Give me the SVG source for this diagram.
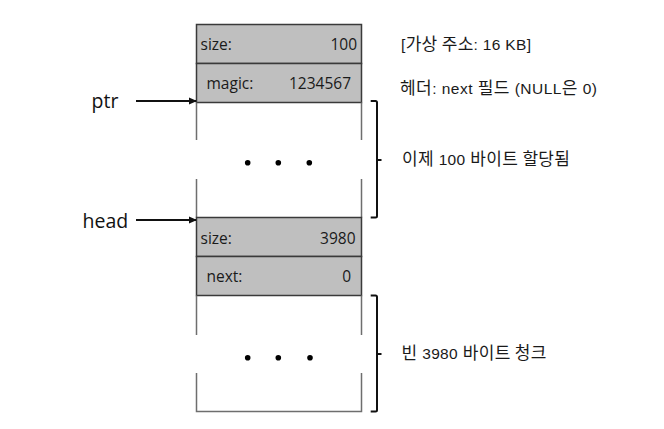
<svg xmlns="http://www.w3.org/2000/svg" width="664" height="429" viewBox="0 0 664 429">
<style>
.cell{fill:#bfbfbf;stroke:#3a3a3a;stroke-width:1.5}
.side{stroke:#6e6e6e;stroke-width:1.5;fill:none}
.bt{font-family:"Open Sans","DejaVu Sans",sans-serif;font-size:15.5px;fill:#1a1a1a}
.lbl{font-family:"Liberation Sans","Noto Sans CJK KR",sans-serif;font-size:15.5px;fill:#1a1a1a}
.k{font-family:"Noto Sans CJK KR","Liberation Sans",sans-serif;font-size:17px}
.ptr{font-family:"Open Sans","DejaVu Sans",sans-serif;font-size:19.5px;fill:#111}
.brace{stroke:#111;stroke-width:2;fill:none}
.arrow{stroke:#111;stroke-width:2.2;fill:none}
.dot{fill:#000}
</style>
<defs>
<marker id="ah" markerWidth="8" markerHeight="8" refX="7" refY="4" orient="auto" markerUnits="userSpaceOnUse">
<path d="M0,0.5 L8,4 L0,7.5 Z" fill="#111"/>
</marker>
</defs>
<rect width="664" height="429" fill="#fff"/>
<g id="size100">
<rect class="cell" x="196.5" y="24.5" width="165" height="39"/>
<text class="bt" x="200.5" y="50">size:</text>
<text class="bt" x="357" y="50" text-anchor="end">100</text>
</g>
<g id="magic">
<rect class="cell" x="196.5" y="63.5" width="165" height="39"/>
<text class="bt" x="206.5" y="89">magic:</text>
<text class="bt" x="351" y="89" text-anchor="end">1234567</text>
</g>
<g id="alloc">
<path class="side" d="M196.5,102.5 V140 M196.5,179 V217.5 M361.5,102.5 V140 M361.5,179 V217.5"/>
<circle class="dot" cx="247.7" cy="162.7" r="2.8"/>
<circle class="dot" cx="278.3" cy="162.7" r="2.8"/>
<circle class="dot" cx="309.3" cy="162.7" r="2.8"/>
</g>
<g id="size3980">
<rect class="cell" x="196.5" y="217.5" width="165" height="39"/>
<text class="bt" x="200.5" y="243.5">size:</text>
<text class="bt" x="355.5" y="243.5" text-anchor="end">3980</text>
</g>
<g id="next">
<rect class="cell" x="196.5" y="256.5" width="165" height="39"/>
<text class="bt" x="206.5" y="281.5">next:</text>
<text class="bt" x="351" y="281.5" text-anchor="end">0</text>
</g>
<g id="free">
<path class="side" d="M196.5,295.5 V335 M196.5,373 V411.5 H361.5 V373 M361.5,295.5 V335"/>
<circle class="dot" cx="247.7" cy="357.7" r="2.8"/>
<circle class="dot" cx="278.3" cy="357.7" r="2.8"/>
<circle class="dot" cx="310" cy="357.7" r="2.8"/>
</g>
<g id="ptr">
<text class="ptr" x="91.5" y="108">ptr</text>
</g>
<g id="head">
<text class="ptr" x="82.5" y="227.5">head</text>
</g>
<g id="labels">
<text class="lbl" x="401" y="49.5" textLength="130">[<tspan class="k">가상 주소</tspan>: 16 KB]</text>
<text class="lbl" x="400" y="94" textLength="197"><tspan class="k">헤더</tspan>: next <tspan class="k">필드</tspan> (NULL<tspan class="k">은</tspan> 0)</text>
<text class="lbl" x="402" y="164.5" textLength="168"><tspan class="k">이제</tspan> 100 <tspan class="k">바이트 할당됨</tspan></text>
<text class="lbl" x="401.5" y="358.5" textLength="145"><tspan class="k">빈</tspan> 3980 <tspan class="k">바이트 청크</tspan></text>
</g>
<g id="connectors">
<line class="arrow" x1="136" y1="101" x2="196" y2="101" marker-end="url(#ah)"/>
<line class="arrow" x1="136" y1="220" x2="196" y2="220" marker-end="url(#ah)"/>
<path class="brace" d="M370.7,101 H375.5 Q377,101 377,102.5 V216 Q377,217.5 375.5,217.5 H370.7 M377,160 H381.5"/>
<path class="brace" d="M370.7,295.5 H375.5 Q377,295.5 377,297 V410 Q377,411.5 375.5,411.5 H370.7 M377,354 H381.5"/>
</g>
</svg>
